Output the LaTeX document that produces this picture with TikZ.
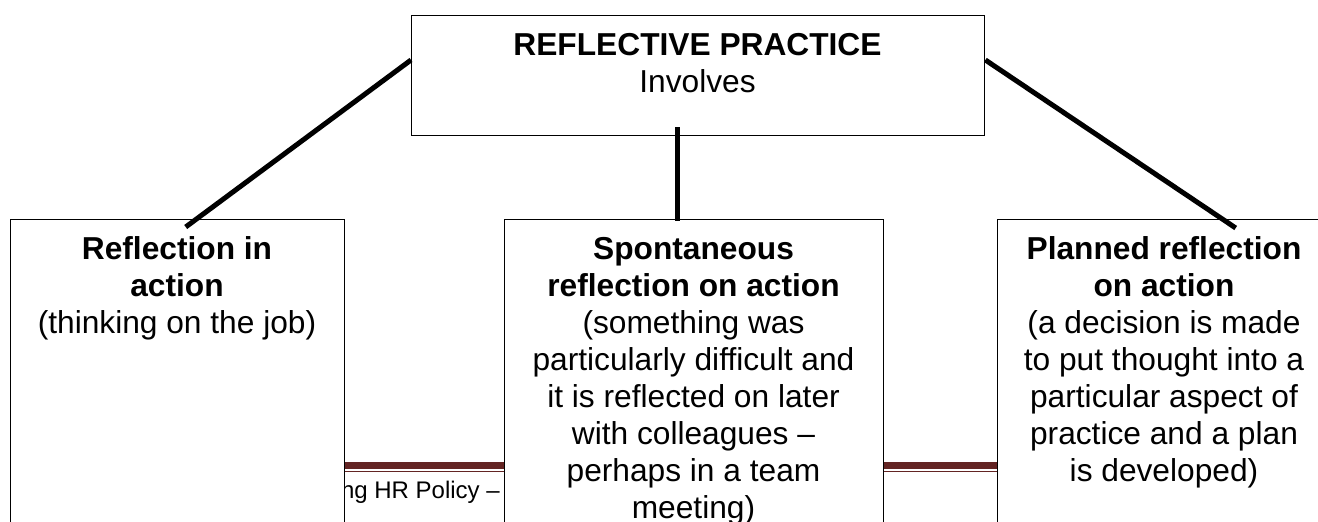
\documentclass[tikz,border=0pt]{standalone}
\usepackage{fontspec}
\setmainfont{Liberation Sans}
\usetikzlibrary{calc}
\definecolor{bandred}{RGB}{99,36,35}
\begin{document}
\begin{tikzpicture}[x=1pt,y=-1pt,
  box/.style={draw=black, line width=1.4pt, fill=white, rectangle, inner sep=0pt, anchor=north west},
  boxtext/.style={align=center, inner sep=0pt, anchor=north, font=\fontsize{31.7}{37}\selectfont},
  link/.style={draw=black, line width=5pt, line cap=butt},
]
\useasboundingbox (0,0) rectangle (1318,522);
\clip (0,0) rectangle (1318,522);
% page footer rule and text, partly hidden behind the boxes
\fill[bandred] (344,462) rectangle (997,469);
\draw[bandred, line width=1.5pt] (344,471.5) -- (997,471.5);
\node[anchor=base east, inner sep=0pt, font=\fontsize{24}{28}\selectfont] (footer) at (500,498) {ng HR Policy –};
% boxes
\node[box, minimum width=573pt, minimum height=120pt] (top) at (411,15) {};
\node[box, minimum width=334pt, minimum height=330pt] (left) at (10,219) {};
\node[box, minimum width=379pt, minimum height=330pt] (mid) at (504,219) {};
\node[box, minimum width=334pt, minimum height=330pt] (right) at (997,219) {};
% box texts
\node[boxtext] (toptxt) at (697.5,31) {\rule{0pt}{24pt}\textbf{REFLECTIVE PRACTICE}\\Involves};
\node[boxtext] (lefttxt) at (177,235) {\rule{0pt}{24pt}\textbf{Reflection in}\\\textbf{action}\\(thinking on the job)};
\node[boxtext] (midtxt) at (693.5,235) {\rule{0pt}{24pt}\textbf{Spontaneous}\\\textbf{reflection on action}\\(something was\\particularly difficult and\\it is reflected on later\\with colleagues –\\perhaps in a team\\meeting)};
\node[boxtext] (righttxt) at (1164,235) {\rule{0pt}{24pt}\textbf{Planned reflection}\\\textbf{on action}\\(a decision is made\\to put thought into a\\particular aspect of\\practice and a plan\\is developed)};
% connectors
\draw[link] ($(top.north west)+(0,45)$) -- ($(left.north)+(8,8)$);
\draw[link] ($(top.south)+(-20.5,-9)$) -- ($(mid.north)+(-16.5,2)$);
\draw[link] ($(top.north east)+(0,45)$) -- ($(right.north)+(71,9)$);
\end{tikzpicture}
\end{document}
